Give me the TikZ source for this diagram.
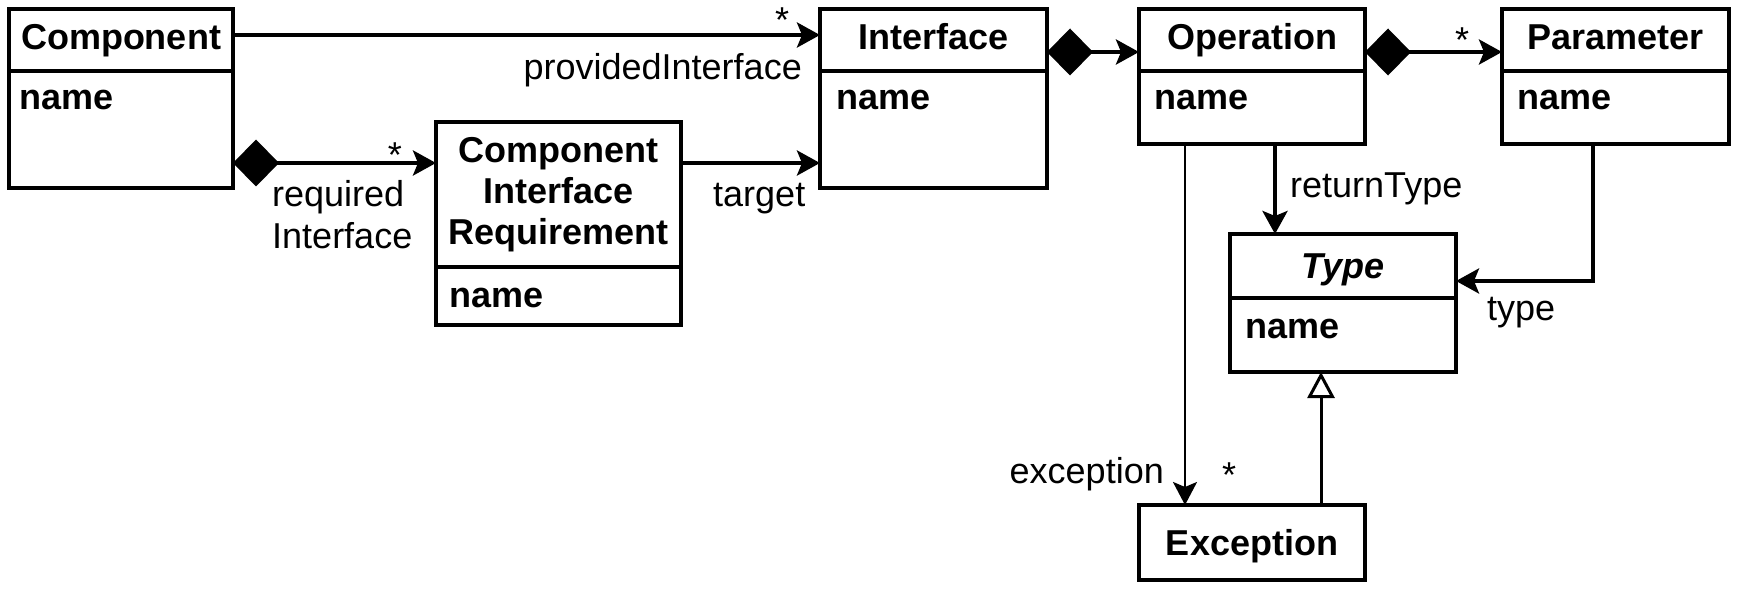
\documentclass[tikz,border=0pt]{standalone}
\usepackage{fontspec}
\setmainfont{Liberation Sans}
\usetikzlibrary{arrows.meta}
\newcommand\fsz{\fontsize{36pt}{41pt}\selectfont}
\tikzset{
  cls/.style={draw, line width=4pt, inner sep=0pt, outer sep=0pt, anchor=north west},
  divider/.style={line width=4pt},
  hd/.style={font=\fsz\bfseries, anchor=base, inner sep=0pt},
  attr/.style={font=\fsz\bfseries, anchor=base west, inner sep=0pt},
  lbl/.style={font=\fsz, inner sep=0pt},
  assoc/.style={line width=4pt, -{Stealth[length=23pt,width=25pt,inset=5pt]}},
  thinassoc/.style={line width=2.5pt, -{Stealth[length=23pt,width=24pt,inset=5pt]}},
  compo/.style={line width=4pt, {Diamond[length=46pt,width=47pt]}-{Stealth[length=23pt,width=25pt,inset=5pt]}},
  gen/.style={line width=3pt, -{Triangle[open,length=26pt,width=27pt,fill=white]}}
}
\begin{document}
\begin{tikzpicture}[x=1pt,y=-1pt]
\useasboundingbox (0,0) rectangle (1738,596);
% classes
\node[cls, minimum width=224pt, minimum height=179pt] (comp) at (9,9) {};
\node[cls, minimum width=227pt, minimum height=179pt] (iface) at (820,9) {};
\node[cls, minimum width=226pt, minimum height=135pt] (oper) at (1139,9) {};
\node[cls, minimum width=227pt, minimum height=135pt] (param) at (1502,9) {};
\node[cls, minimum width=245pt, minimum height=203pt] (cir) at (436,122) {};
\node[cls, minimum width=226pt, minimum height=138pt] (type) at (1230,234) {};
\node[cls, minimum width=226pt, minimum height=75pt] (exc) at (1139,505) {};
% dividers
\draw[divider] (comp.west |- 0,71) -- (comp.east |- 0,71);
\draw[divider] (iface.west |- 0,71) -- (iface.east |- 0,71);
\draw[divider] (oper.west |- 0,71) -- (oper.east |- 0,71);
\draw[divider] (param.west |- 0,71) -- (param.east |- 0,71);
\draw[divider] (cir.west |- 0,267) -- (cir.east |- 0,267);
\draw[divider] (type.west |- 0,298) -- (type.east |- 0,298);
% headers
\node[hd] (compt) at (121,50) {Component};
\node[hd] (ifacet) at (933.5,50) {Interface};
\node[hd] (opert) at (1252,50) {Operation};
\node[hd] (paramt) at (1615.5,50) {Parameter};
\node[hd] (cirt1) at (558.5,163) {Component};
\node[hd] (cirt2) at (558.5,204) {Interface};
\node[hd] (cirt3) at (558.5,245) {Requirement};
\node[hd, font=\fsz\bfseries\itshape] (typet) at (1343,278) {Type};
\node[hd] (exct) at (1252,555) {Exception};
% attributes
\node[attr] (compa) at (19,110) {name};
\node[attr] (ifacea) at (836,110) {name};
\node[attr] (opera) at (1154,110) {name};
\node[attr] (parama) at (1517,110) {name};
\node[attr] (cira) at (449,307) {name};
\node[attr] (typea) at (1245,338) {name};
% connectors
\draw[assoc] (comp.east |- 0,35) -- (iface.west |- 0,35);
\draw[compo] (comp.east |- 0,163) -- (cir.west |- 0,163);
\draw[assoc] (cir.east |- 0,163) -- (iface.west |- 0,163);
\draw[compo] (iface.east |- 0,52) -- (oper.west |- 0,52);
\draw[compo] (oper.east |- 0,52) -- (param.west |- 0,52);
\draw[assoc] (oper.south -| 1275,0) -- (type.north -| 1275,0);
\draw[assoc] (param.south -| 1593,0) |- (type.east |- 0,281);
\draw[thinassoc] (oper.south -| 1185,0) -- (exc.north -| 1185,0);
\draw[gen] (exc.north -| 1321,0) -- (type.south -| 1321,0);
% labels
\node[lbl, anchor=base] (m1) at (782,33) {*};
\node[lbl, anchor=base east] (l1) at (802,80) {providedInterface};
\node[lbl, anchor=base] (m2) at (395,168) {*};
\node[lbl, anchor=base west] (l2) at (272,207) {required};
\node[lbl, anchor=base west] (l2b) at (272,248) {Interface};
\node[lbl, anchor=base west] (l3) at (713,207) {target};
\node[lbl, anchor=base] (m3) at (1462,53) {*};
\node[lbl, anchor=base west] (l4) at (1290,198) {returnType};
\node[lbl, anchor=base west] (l5) at (1487,320) {type};
\node[lbl, anchor=base east] (l6) at (1164,483) {exception};
\node[lbl, anchor=base] (m4) at (1229,487) {*};
\end{tikzpicture}
\end{document}
